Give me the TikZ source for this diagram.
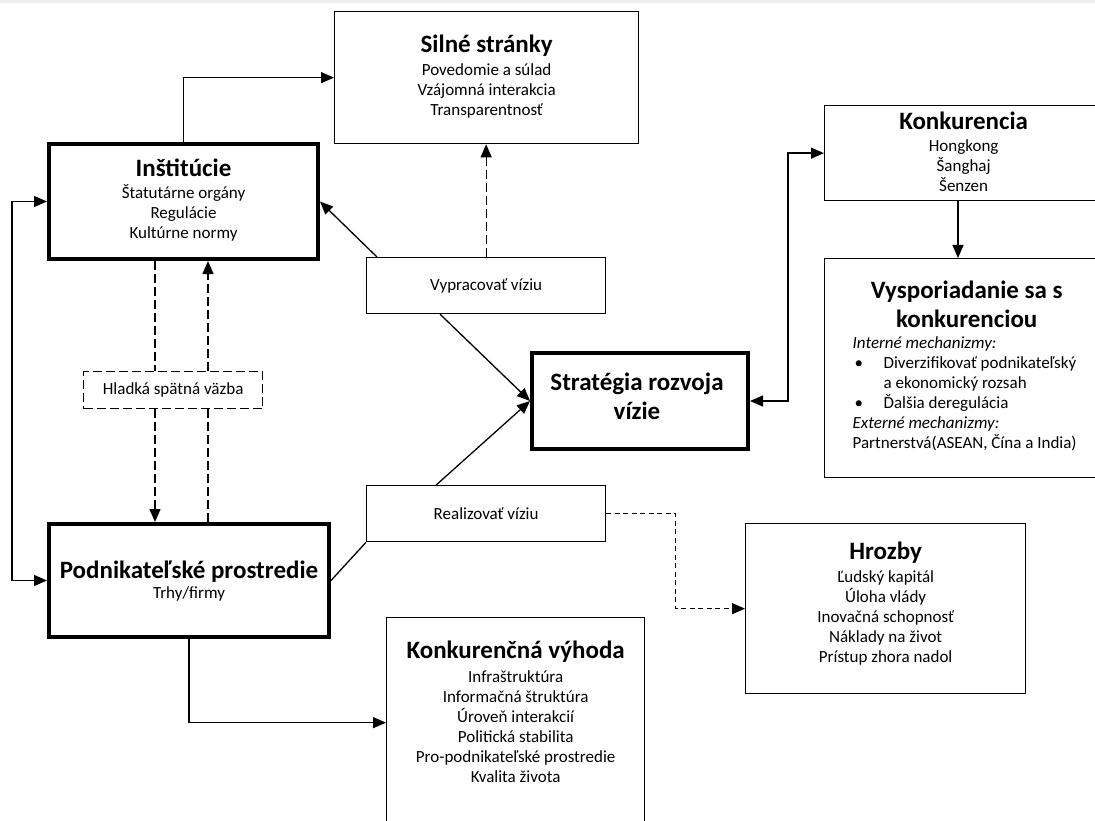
\documentclass[tikz,border=0pt]{standalone}
\usepackage{fontspec}
\setmainfont{Carlito}
\usetikzlibrary{arrows.meta,positioning,calc}

\newcommand{\bodyfont}{\fontsize{17}{20}\selectfont}
\newcommand{\ttlfont}{\fontsize{25}{28.5}\selectfont\bfseries}
\newcommand{\ttl}[1]{{\ttlfont\rule{0pt}{21pt}#1}}

\begin{document}
\begin{tikzpicture}[x=1pt,y=-1pt,line width=1.3pt,
  bx/.style 2 args={draw,anchor=north west,inner sep=0pt,minimum width=#1,minimum height=#2},
  tbx/.style 2 args={bx={#1}{#2},line width=4pt},
  lbl/.style={align=center,inner sep=0pt,font=\bodyfont},
  dsh/.style={dash pattern=on 9pt off 4pt},
  fin/.style={dash pattern=on 5pt off 3.5pt},
  arr/.style={-{Triangle[length=13pt,width=11pt]}},
  arrs/.style={{Triangle[length=13pt,width=11pt]}-{Triangle[length=13pt,width=11pt]}}]
\useasboundingbox (0,0) rectangle (1095,821);
\clip (0,0) rectangle (1095,821);
\fill[black!7] (0,0) rectangle (1095,3);

\coordinate (xa) at (155,0);
\coordinate (xb) at (208,0);
\coordinate (xc) at (958,0);

\node[bx={304pt}{132pt}] (silne) at (334,11) {};
\node[lbl,below=20pt of silne.north] {\ttl{Silné stránky}\\[3pt]Povedomie a súlad\\Vzájomná interakcia\\Transparentnosť};

\node[tbx={269pt}{115pt}] (inst) at (47,142) {};
\node[lbl,below=13pt of inst.north] {\ttl{Inštitúcie}\\[2pt]Štatutárne orgány\\Regulácie\\Kultúrne normy};

\node[bx={179pt}{37pt},dsh,font=\bodyfont] (hladka) at (83,371) {Hladká spätná väzba};

\node[tbx={280pt}{113pt}] (podnik) at (47,522) {};
\node[lbl,below=35pt of podnik.north] {\ttl{Podnikateľské prostredie}\\Trhy/firmy};

\node[bx={239pt}{56pt},font=\bodyfont] (vyprac) at (366,257) {Vypracovať víziu};
\node[bx={239pt}{56pt},font=\bodyfont] (realiz) at (366,485) {Realizovať víziu};

\node[tbx={216pt}{96pt}] (strat) at (530,351) {};
\node[lbl,font=\ttlfont,below=18pt of strat.north,xshift=-3pt] {\rule{0pt}{21pt}Stratégia rozvoja\\vízie};

\node[bx={278pt}{95pt}] (konk) at (824,105) {};
\node[lbl,below=3pt of konk.north] {\ttl{Konkurencia}\\[2pt]Hongkong\\Šanghaj\\Šenzen};

\node[bx={284pt}{219pt}] (vysp) at (824,258) {};
\node[lbl,font=\ttlfont,below=19pt of vysp.north] {\rule{0pt}{21pt}Vysporiadanie sa s\\konkurenciou};
\node[lbl,align=left,anchor=north west] at (852,332) {\rule{0pt}{16pt}\textit{Interné mechanizmy:}\\
  \makebox[31pt][l]{\hspace{2pt}\textbullet}Diverzifikovať podnikateľský\\
  \hspace*{31pt}a ekonomický rozsah\\
  \makebox[31pt][l]{\hspace{2pt}\textbullet}Ďalšia deregulácia\\
  \textit{Externé mechanizmy:}\\
  Partnerstvá(ASEAN, Čína a India)};

\node[bx={280pt}{170pt}] (hrozby) at (745,523) {};
\node[lbl,below=15pt of hrozby.north] {\ttl{Hrozby}\\[3pt]Ľudský kapitál\\Úloha vlády\\Inovačná schopnosť\\Náklady na život\\Prístup zhora nadol};

\node[bx={258pt}{210pt}] (vyhoda) at (386,617) {};
\node[lbl,below=20pt of vyhoda.north] {\ttl{Konkurenčná výhoda}\\[4pt]Infraštruktúra\\Informačná štruktúra\\Úroveň interakcií\\Politická stabilita\\Pro-podnikateľské prostredie\\Kvalita života};

\draw[arr] (inst.north) |- (silne.west);
\draw[arrs] (inst.west) -- ++(-35,0) |- (podnik.west);
\draw[dsh] (inst.south -| xa) -- (hladka.north -| xa);
\draw[dsh,arr] (hladka.south -| xa) -- (podnik.north -| xa);
\draw[dsh] (podnik.north -| xb) -- (hladka.south -| xb);
\draw[dsh,arr] (hladka.north -| xb) -- (inst.south -| xb);
\draw[arr] ([xshift=11pt]vyprac.north west) -- (inst.east);
\draw[dsh,arr] (vyprac.north) -- (vyprac.north |- silne.south);
\draw[arr] ([xshift=-46pt]vyprac.south) -- (strat.west);
\draw[arr] ([xshift=-50pt]realiz.north) -- (strat.west);
\draw (podnik.east) -- (realiz.south west);
\draw[fin,arr] (realiz.east) -| ($(realiz.east)!.5!(hrozby.west)$) |- (hrozby.west);
\draw[arrs] (strat.east) -- ++(38,0) |- (konk.west);
\draw[arr] (konk.south -| xc) -- (vysp.north -| xc);
\draw[arr] (podnik.south) |- (vyhoda.west);
\end{tikzpicture}
\end{document}
